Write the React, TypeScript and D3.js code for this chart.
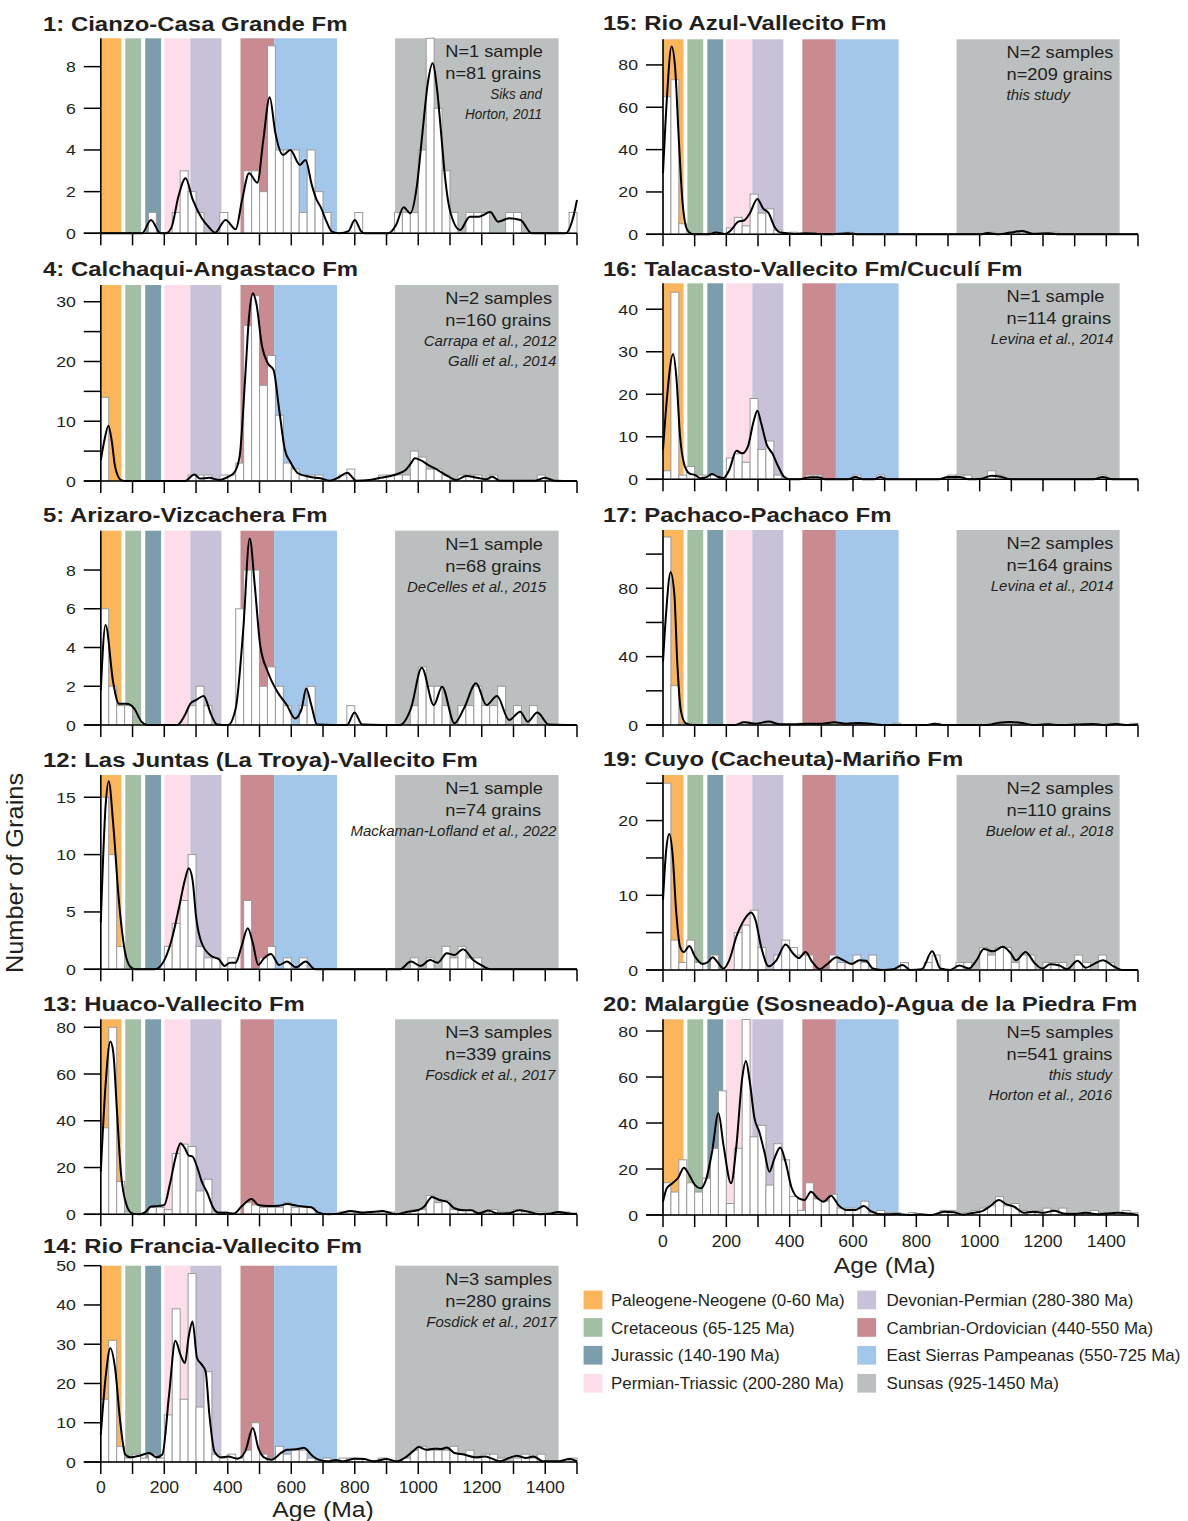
import React from "react";
import * as d3 from "d3";

const W = 1188;
const H = 1521;
const FONT = "'Liberation Sans', Arial, Helvetica, sans-serif";

// ---------- reference age bands (Ma) ----------
const bandRanges: [number, number][] = [
  [0, 65], [77, 127], [140, 190], [200, 282], [282, 380], [440, 546], [546, 744], [927, 1442],
];
const bandColors = ["#FBB65C", "#A3BFA3", "#7C9EAC", "#FDDDEA", "#C8C1D7", "#C98A90", "#A2C7EB", "#BBBFBF"];
const legendLabels = [
  "Paleogene-Neogene (0-60 Ma)",
  "Cretaceous (65-125 Ma)",
  "Jurassic (140-190 Ma)",
  "Permian-Triassic (200-280 Ma)",
  "Devonian-Permian (280-380 Ma)",
  "Cambrian-Ordovician (440-550 Ma)",
  "East Sierras Pampeanas (550-725 Ma)",
  "Sunsas (925-1450 Ma)",
];
const xTickValues = d3.range(0, 1501, 100);
const xTickLabels = [0, 200, 400, 600, 800, 1000, 1200, 1400];
const BIN = 25;

// ---------- histogram bins: [bin start (Ma), count] ----------
const p1Bars = [[150,1],[225,1],[250,3],[275,2],[300,1],[375,1],[450,3],[475,3],[500,2],[525,9],[550,4],[575,4],[600,4],[625,1],[650,4],[675,2],[700,1],[800,1],[925,1],[950,1],[975,1],[1000,4],[1025,10],[1050,6],[1075,3],[1100,1],[1150,1],[1175,1],[1200,1],[1275,1],[1300,1],[1475,1]];
const p4Bars = [[0,14],[275,1],[300,1],[325,1],[375,1],[400,1],[425,3],[450,26],[475,31],[500,16],[525,21],[550,11],[575,3],[600,2],[625,1],[650,1],[675,1],[750,1],[775,2],[875,1],[900,1],[925,1],[950,1],[975,5],[1000,4],[1025,2],[1050,2],[1075,1],[1125,1],[1150,1],[1175,1],[1225,1],[1375,1]];
const p5Bars = [[0,6],[25,2],[50,1],[75,1],[275,1],[300,2],[325,1],[425,6],[450,8],[475,8],[500,2],[525,3],[550,2],[575,1],[625,1],[650,2],[775,1],[975,1],[1000,3],[1025,2],[1050,2],[1075,1],[1125,1],[1150,1],[1175,2],[1200,1],[1225,1],[1250,2],[1300,1],[1350,1]];
const p12Bars = [[0,15],[25,10],[50,2],[200,2],[225,4],[250,6],[275,10],[300,2],[325,1],[350,1],[400,1],[450,6],[500,1],[525,2],[575,1],[625,1],[975,1],[1025,1],[1075,2],[1100,1],[1125,2],[1150,1],[1175,1]];
const p13Bars = [[0,37],[25,80],[50,14],[75,1],[150,3],[175,3],[200,2],[225,26],[250,30],[275,29],[300,10],[325,15],[350,1],[375,1],[450,5],[475,4],[500,3],[525,3],[550,3],[575,5],[600,3],[625,3],[650,3],[750,1],[775,1],[800,1],[825,1],[850,1],[875,1],[900,1],[950,1],[975,2],[1000,2],[1025,8],[1050,5],[1075,6],[1100,2],[1125,2],[1150,2],[1175,1],[1200,1],[1225,2],[1250,1],[1275,1],[1300,2],[1325,1],[1350,1],[1375,1],[1425,1],[1450,1]];
const p14Bars = [[0,16],[25,31],[50,4],[75,1],[100,2],[125,1],[150,2],[175,1],[200,12],[225,39],[250,16],[275,48],[300,14],[325,23],[350,2],[375,1],[400,2],[425,1],[450,3],[475,10],[500,2],[525,1],[550,4],[575,2],[600,3],[625,3],[650,1],[700,1],[750,1],[775,1],[800,1],[875,1],[950,1],[975,3],[1000,4],[1025,3],[1050,3],[1075,3],[1100,4],[1125,2],[1150,3],[1175,1],[1200,2],[1225,2],[1250,1],[1300,1],[1325,2],[1350,1],[1375,2],[1475,1]];
const p15Bars = [[0,65],[25,73],[50,5],[150,1],[200,3],[225,8],[250,4],[275,19],[300,10],[325,12],[350,2],[400,1],[450,1],[575,1],[1025,1],[1100,1],[1125,1],[1225,1]];
const p16Bars = [[0,2],[25,44],[50,1],[75,3],[100,1],[125,1],[150,1],[200,5],[225,6],[250,4],[275,19],[300,7],[325,9],[350,1],[450,1],[475,1],[600,1],[675,1],[900,1],[925,1],[950,1],[1025,2],[1050,1],[1375,1]];
const p17Bars = [[0,110],[25,23],[50,1],[75,1],[250,2],[275,1],[300,1],[325,1],[425,1],[475,1],[500,1],[525,1],[550,1],[575,1],[600,1],[625,1],[725,1],[850,1],[1025,1],[1050,1],[1075,1],[1100,1],[1125,1],[1200,1],[1325,1],[1400,1],[1475,1]];
const p19Bars = [[0,25],[25,4],[50,1],[75,4],[100,1],[150,2],[225,5],[250,6],[275,8],[300,3],[350,2],[375,4],[400,3],[425,2],[450,2],[525,2],[550,1],[575,1],[600,2],[625,1],[650,2],[750,1],[825,1],[850,2],[925,1],[950,1],[1000,3],[1025,2],[1050,3],[1075,3],[1100,1],[1125,2],[1150,2],[1200,1],[1225,1],[1250,1],[1300,2],[1325,1],[1375,2],[1400,1]];
const p20Bars = [[0,14],[25,10],[50,24],[75,14],[100,10],[125,16],[150,29],[175,54],[200,5],[225,29],[250,85],[275,34],[300,39],[325,13],[350,31],[375,24],[400,8],[425,2],[450,14],[475,7],[500,6],[525,9],[550,3],[575,3],[600,3],[625,6],[650,1],[675,2],[700,1],[725,1],[775,1],[875,2],[900,2],[950,1],[975,2],[1000,3],[1025,4],[1050,8],[1075,4],[1100,5],[1125,2],[1150,1],[1175,2],[1200,3],[1225,2],[1250,3],[1275,1],[1300,1],[1325,1],[1350,2],[1375,1],[1425,1],[1450,2],[1475,1]];

// ---------- probability-density curves: [age (Ma), value] ----------
const p1Kde = [[0,0],[130,0],[158,0.64],[188,0],[205,0],[223,0.3],[245,1.8],[267,2.64],[290,1.6],[318,0.72],[340,0.3],[360,0.03],[393,0.64],[425,0.2],[445,1.6],[467,2.88],[493,2.43],[512,4.5],[532,6.53],[550,4.8],[574,3.76],[597,4.0],[627,3.28],[645,3.52],[665,2.3],[680,1.6],[692,1.28],[710,0.6],[728,0.08],[752,0],[780,0.1],[800,0.64],[820,0.1],[829,0],[906,0],[930,0.4],[954,1.25],[975,0.96],[995,2.2],[1013,4.8],[1030,7.2],[1045,8.16],[1060,6.8],[1072,4.8],[1085,2.6],[1102,0.96],[1132,0.16],[1162,0.8],[1191,0.8],[1227,1.02],[1251,0.56],[1286,0.72],[1322,0.64],[1357,0],[1464,0],[1485,0.6],[1500,1.6]];
const p4Kde = [[0,3.5],[12,7],[24,9.26],[35,6.5],[45,2.4],[63,0.17],[75,0],[265,0],[295,1.1],[312,0.4],[342,0.55],[372,0.17],[401,0.7],[419,1.3],[437,4],[455,17.5],[467,27.5],[479,31.4],[490,29.7],[508,22.5],[526,19.7],[544,18.6],[562,11.9],[580,5.2],[597,3.2],[621,1.3],[657,0.7],[692,0.45],[722,0.05],[752,0.7],[776,1.4],[805,0.05],[847,0.17],[882,0.55],[924,1.0],[960,1.84],[977,2.96],[989,3.8],[1007,3.5],[1031,2.7],[1061,1.84],[1096,0.72],[1120,0.17],[1150,0.84],[1185,0.55],[1215,0.28],[1233,0.72],[1257,0.05],[1369,0.05],[1399,0.55],[1429,0.05],[1500,0]];
const p5Kde = [[0,1.8],[15,5.16],[39,2.2],[57,1.1],[81,1.1],[105,0.86],[128,0.17],[146,0],[241,0],[265,0.52],[283,1.12],[300,1.29],[324,1.5],[348,0.52],[366,0.03],[401,0],[425,0.86],[449,5.0],[469,9.63],[485,7.2],[502,4.13],[526,2.75],[556,1.72],[586,1.03],[612,0.34],[633,0.86],[647,1.89],[663,1.03],[681,0.03],[776,0],[799,0.65],[823,0.03],[942,0],[977,0.86],[1011,2.96],[1049,1.03],[1075,1.98],[1114,0.09],[1144,0.86],[1182,2.15],[1215,1.03],[1248,1.5],[1286,0.26],[1321,0.69],[1345,0.17],[1375,0.65],[1411,0.03],[1500,0]];
const p12Kde = [[0,4.1],[15,14.2],[25,16.4],[39,12.7],[57,6.0],[75,1.7],[93,0.23],[110,0],[170,0],[194,0.5],[223,2.56],[247,5.47],[265,7.8],[277,8.8],[289,7.8],[300,4.6],[318,2.27],[348,1.16],[372,0.87],[390,0.29],[407,0.58],[425,0.58],[443,1.98],[463,3.58],[479,2.27],[496,0.38],[514,0.96],[536,1.34],[562,0.38],[586,0.67],[615,0.17],[645,0.67],[675,0],[942,0],[977,0.67],[1007,0.29],[1037,0.81],[1061,0.58],[1090,1.4],[1114,1.25],[1141,1.74],[1173,0.81],[1203,0.29],[1227,0],[1500,0]];
const p13Kde = [[0,18.3],[15,55.3],[30,73.9],[39,69.6],[51,43.9],[63,18.3],[81,4],[99,0.4],[122,0],[140,0.9],[158,3.3],[182,3.6],[200,4],[217,12.5],[235,24],[251,30.4],[265,28.2],[277,25.1],[289,24.7],[303,20.4],[318,14],[336,9],[354,2.85],[372,0.7],[396,0.7],[419,0.3],[443,3.3],[475,6.56],[496,4],[526,3.6],[562,3.7],[586,4.4],[621,3.6],[663,3],[686,0.7],[716,0],[752,0.4],[787,1.4],[823,0.7],[859,1.1],[888,1.4],[930,0],[966,1.1],[1001,1.85],[1019,3.3],[1043,7.4],[1067,6.1],[1090,5.4],[1114,2.6],[1144,1.7],[1167,1.7],[1191,0.4],[1221,1.6],[1251,0.3],[1283,0.4],[1318,1.7],[1348,1.1],[1381,0],[1417,0.3],[1441,1],[1476,0.3],[1500,0.2]];
const p14Kde = [[0,7],[15,21.4],[30,29],[45,23.9],[61,10.4],[77,1.9],[93,1.2],[122,1.6],[152,2.3],[176,1.2],[194,1.9],[215,17.1],[235,30.9],[251,27.3],[265,25.2],[277,32],[289,35.8],[303,26.5],[318,24.8],[330,23.1],[342,12.1],[358,2.7],[378,1.2],[401,1.4],[431,0.85],[455,2.7],[479,8.66],[496,3.6],[514,1.2],[538,0.6],[568,2.3],[586,3.1],[621,3.3],[639,3.6],[669,1.4],[686,0.6],[716,0.17],[740,0.5],[764,0.17],[799,0.85],[829,0.76],[859,0.17],[900,0.76],[930,0.17],[960,1.2],[983,2.7],[1001,3.8],[1025,3.1],[1049,3.4],[1073,3.3],[1090,3.7],[1114,2.3],[1144,1.9],[1179,1.2],[1209,1.4],[1233,0.85],[1257,0.17],[1286,1],[1310,1.6],[1340,1],[1363,1.4],[1393,0.17],[1441,0.17],[1476,0.76],[1500,0.17]];
const p15Kde = [[0,28.8],[12,63.5],[27,88.7],[38,79.2],[50,44.6],[62,14.6],[77,2],[95,0],[143,0],[167,0.8],[197,0.16],[215,2],[238,6],[256,6.5],[274,9.9],[298,16.7],[316,12.3],[334,9.9],[352,3.6],[370,0.9],[393,0.5],[417,0.2],[453,0.5],[489,0.2],[525,0],[584,0.5],[620,0],[1001,0],[1025,0.6],[1061,0],[1097,0.8],[1133,1.6],[1168,0.3],[1216,0.5],[1252,0],[1500,0]];
const p16Kde = [[0,6.9],[12,18.7],[32,29.5],[42,24.2],[54,10],[66,3.8],[83,1.4],[101,1],[119,0.24],[137,0.5],[155,1.25],[173,0.6],[191,0.3],[209,2.2],[232,6.7],[250,6.1],[268,7.7],[286,13.6],[298,16.1],[310,13.2],[328,8.1],[346,6],[364,3],[382,0.6],[399,0],[429,0],[465,0.47],[489,0.47],[513,0],[584,0],[608,0.55],[632,0],[668,0],[686,0.55],[709,0],[870,0],[900,0.55],[936,0.55],[966,0],[1007,0.15],[1037,0.86],[1067,0.6],[1097,0],[1359,0],[1389,0.55],[1419,0],[1500,0]];
const p17Kde = [[0,37],[10,66],[24,89.4],[36,76],[45,37],[57,7.8],[72,1],[95,0],[227,0],[256,1.56],[292,0.8],[334,2],[370,0.4],[417,0.4],[453,0.8],[501,0.8],[542,1.56],[578,0.8],[620,1.2],[662,0.6],[703,0],[835,0],[858,0.8],[882,0],[1025,0],[1061,1.37],[1097,1.76],[1133,1.2],[1168,0],[1216,0.4],[1252,0],[1359,0.6],[1395,0],[1431,0.6],[1467,0],[1500,0.3]];
const p19Kde = [[0,9.4],[10,16],[20,18.2],[30,15.6],[42,7.6],[54,3.1],[66,2.4],[83,3.2],[101,1.8],[125,0.8],[143,1.1],[157,1.7],[173,1],[191,0.2],[209,1.3],[232,4.5],[256,6.7],[278,7.7],[292,6.7],[310,3.1],[334,0.5],[358,1.3],[387,3.4],[411,2.2],[429,1.6],[450,2.4],[471,1.1],[495,0.1],[519,0.8],[548,1.7],[572,1.25],[596,0.8],[620,1.3],[641,1.25],[662,0.2],[692,0],[727,0.1],[757,0.67],[781,0],[817,0.1],[850,2.5],[876,0.2],[906,0],[936,0.6],[966,0.2],[990,1.3],[1013,2.8],[1043,2.5],[1073,3.1],[1097,2.3],[1115,1.3],[1145,2.4],[1174,0.9],[1198,0.2],[1222,0.76],[1252,0.6],[1276,0.1],[1309,1.25],[1335,0.3],[1359,0.76],[1389,1.3],[1419,0.6],[1449,0],[1500,0]];
const p20Kde = [[0,5.8],[12,11.6],[30,13.8],[48,16.2],[66,20.6],[83,17.4],[101,13],[119,11.6],[137,15.9],[155,27.5],[175,44.2],[191,30.4],[215,13.8],[232,30.4],[250,59.4],[262,67],[274,58],[289,42],[304,36.2],[320,27.5],[336,18.8],[352,24.6],[370,29.3],[388,22.5],[405,12.3],[429,7.2],[447,6.5],[467,10.1],[489,7.2],[507,5.8],[531,8.4],[554,4.3],[578,2.2],[608,2.2],[634,3.9],[656,1.7],[692,0.3],[739,0.4],[775,0],[811,0.3],[847,0],[888,1.45],[918,1.2],[948,0.15],[978,0.9],[1008,1.7],[1031,3.6],[1061,6.5],[1085,4.6],[1109,3.6],[1139,1],[1168,1.45],[1204,1],[1234,1.9],[1264,0.7],[1299,0.4],[1335,1],[1371,0.3],[1437,1],[1473,0.6],[1500,0]];

// ---------- panel texts ----------
const titles = [
  "1: Cianzo-Casa Grande Fm", "4: Calchaqui-Angastaco Fm", "5: Arizaro-Vizcachera Fm",
  "12: Las Juntas (La Troya)-Vallecito Fm", "13: Huaco-Vallecito Fm", "14: Rio Francia-Vallecito Fm",
  "15: Rio Azul-Vallecito Fm", "16: Talacasto-Vallecito Fm/Cuculí Fm", "17: Pachaco-Pachaco Fm",
  "19: Cuyo (Cacheuta)-Mariño Fm", "20: Malargüe (Sosneado)-Agua de la Piedra Fm",
];
const sampleLines = ["N=1 sample","N=2 samples","N=1 sample","N=1 sample","N=3 samples","N=3 samples","N=2 samples","N=1 sample","N=2 samples","N=2 samples","N=5 samples"];
const grainLines = ["n=81 grains","n=160 grains","n=68 grains","n=74 grains","n=339 grains","n=280 grains","n=209 grains","n=114 grains","n=164 grains","n=110 grains","n=541 grains"];
const citations = [
  ["Siks and", "Horton, 2011"], ["Carrapa et al., 2012", "Galli et al., 2014"], ["DeCelles et al., 2015"],
  ["Mackaman-Lofland et al., 2022"], ["Fosdick et al., 2017"], ["Fosdick et al., 2017"],
  ["this study"], ["Levina et al., 2014"], ["Levina et al., 2014"], ["Buelow et al., 2018"],
  ["this study", "Horton et al., 2016"],
];
const barsList = [p1Bars, p4Bars, p5Bars, p12Bars, p13Bars, p14Bars, p15Bars, p16Bars, p17Bars, p19Bars, p20Bars];
const kdeList = [p1Kde, p4Kde, p5Kde, p12Kde, p13Kde, p14Kde, p15Kde, p16Kde, p17Kde, p19Kde, p20Kde];
const yTicksList = [
  [0,2,4,6,8], [0,5,10,15,20,25,30], [0,2,4,6,8], [0,5,10,15], [0,20,40,60,80], [0,10,20,30,40,50],
  [0,20,40,60,80], [0,10,20,30,40], [0,20,40,60,80,100], [0,5,10,15,20,25], [0,20,40,60,80],
];
const yLabelsList = [
  [0,2,4,6,8], [0,10,20,30], [0,2,4,6,8], [0,5,10,15], [0,20,40,60,80], [0,10,20,30,40,50],
  [0,20,40,60,80], [0,10,20,30,40], [0,40,80], [0,10,20], [0,20,40,60,80],
];
const yMaxList = [9.36, 32.8, 10.03, 16.94, 83.4, 50, 92.1, 46.1, 114.1, 26.1, 85.1];

// ---------- layout (positions only) ----------
const layout = [
  { col: 0, top: 38.3, zero: 233.3, titleY: 30.5, citeMode: "end", citeAt: 1390, citeSx: 0.9, xLabels: false },
  { col: 0, top: 285, zero: 481, titleY: 276, citeMode: "end", citeAt: 1435, citeSx: 1, xLabels: false },
  { col: 0, top: 530.7, zero: 725, titleY: 521.5, citeMode: "end", citeAt: 1403, citeSx: 1, xLabels: false },
  { col: 0, top: 775, zero: 969.3, titleY: 766.5, citeMode: "end", citeAt: 1435, citeSx: 1, xLabels: false },
  { col: 0, top: 1019.3, zero: 1214.3, titleY: 1011, citeMode: "end", citeAt: 1432, citeSx: 1, xLabels: false },
  { col: 0, top: 1265.7, zero: 1462, titleY: 1253, citeMode: "end", citeAt: 1435, citeSx: 1, xLabels: true, tickDy: 31, ageDy: 55 },
  { col: 1, top: 39.3, zero: 234.3, titleY: 30, citeMode: "start", citeAt: 1085, citeSx: 1, xLabels: false },
  { col: 1, top: 283.3, zero: 479.3, titleY: 276, citeMode: "end", citeAt: 1422, citeSx: 1, xLabels: false },
  { col: 1, top: 530, zero: 725, titleY: 521.5, citeMode: "end", citeAt: 1422, citeSx: 1, xLabels: false },
  { col: 1, top: 775, zero: 970, titleY: 766, citeMode: "end", citeAt: 1422, citeSx: 1, xLabels: false },
  { col: 1, top: 1019.3, zero: 1215, titleY: 1011, citeMode: "end", citeAt: 1418, citeSx: 1, xLabels: true, tickDy: 32, ageDy: 58 },
];
const colRanges = [[100.8, 577], [663, 1138]];
const titleX = [43, 603];

function T(props: any) {
  const { x, y, sx = 1, anchor = "start", size = 16, weight = "normal", italic = false, rotate = 0, children } = props;
  return (
    <text
      transform={`translate(${x},${y})${rotate ? ` rotate(${rotate})` : ""} scale(${sx},1)`}
      textAnchor={anchor}
      fontFamily={FONT}
      fontSize={size}
      fontWeight={weight}
      fontStyle={italic ? "italic" : "normal"}
      fill="#231f20"
    >
      {children}
    </text>
  );
}

function Panel({ i }: { i: number }) {
  const L: any = layout[i];
  const x = d3.scaleLinear().domain([0, 1500]).range(colRanges[L.col]);
  const y = d3.scaleLinear().domain([0, yMaxList[i]]).range([L.zero, L.top]);
  const line = d3
    .line<number[]>()
    .x((d) => x(d[0]))
    .y((d) => y(d[1]))
    .curve(d3.curveMonotoneX);
  const x0 = x(0);
  const cites = citations[i];
  return (
    <g>
      <T x={titleX[L.col]} y={L.titleY} size={21} sx={1.14} weight="bold">{titles[i]}</T>
      {bandRanges.map((b, k) => (
        <rect key={k} x={x(b[0])} y={L.top} width={x(b[1]) - x(b[0])} height={L.zero - L.top} fill={bandColors[k]} />
      ))}
      {barsList[i].map((b, k) => {
        const v = Math.min(b[1], yMaxList[i]);
        return (
          <rect key={k} x={x(b[0])} y={y(v)} width={x(b[0] + BIN) - x(b[0])} height={L.zero - y(v)}
            fill="#ffffff" stroke="#9a9a9a" strokeWidth={1} />
        );
      })}
      <path d={line(kdeList[i] as number[][]) || ""} fill="none" stroke="#000" strokeWidth={2} strokeLinejoin="round" />
      {/* y axis */}
      <line x1={x0} x2={x0} y1={L.zero} y2={L.top} stroke="#000" strokeWidth={1.6} />
      {yTicksList[i].map((t) => (
        <line key={t} x1={x0 - 17} x2={x0} y1={y(t)} y2={y(t)} stroke="#000" strokeWidth={1.5} />
      ))}
      {yLabelsList[i].map((t) => (
        <T key={t} x={x0 - 25} y={y(t) + 5.5} anchor="end" size={15.5} sx={1.14}>{String(t)}</T>
      ))}
      {/* x axis */}
      <line x1={x0 - 17} x2={x(1500)} y1={L.zero} y2={L.zero} stroke="#000" strokeWidth={1.6} />
      {xTickValues.map((t) => (
        <line key={t} x1={x(t)} x2={x(t)} y1={L.zero} y2={L.zero + 12} stroke="#000" strokeWidth={1.5} />
      ))}
      {L.xLabels &&
        xTickLabels.map((t) => (
          <T key={t} x={x(t)} y={L.zero + L.tickDy} anchor="middle" size={16} sx={1.1}>{String(t)}</T>
        ))}
      {L.xLabels && (
        <T x={x(700)} y={L.zero + L.ageDy} anchor="middle" size={21.5} sx={1.15}>Age (Ma)</T>
      )}
      {/* annotations */}
      <T x={x(1085)} y={L.top + 19} size={16} sx={1.14}>{sampleLines[i]}</T>
      <T x={x(1085)} y={L.top + 41} size={16} sx={1.14}>{grainLines[i]}</T>
      {cites.map((c, k) => (
        <T key={k} x={x(L.citeAt)} y={L.top + 61 + k * 20} anchor={L.citeMode} size={15} sx={L.citeSx} italic>
          {c}
        </T>
      ))}
    </g>
  );
}

function Legend() {
  const rowsY = [1300, 1327.5, 1355.3, 1383.3];
  const swX = [583.6, 857.3];
  const txX = [611, 886.6];
  return (
    <g>
      {legendLabels.map((lab, k) => {
        const c = Math.floor(k / 4);
        const r = k % 4;
        return (
          <g key={k}>
            <rect x={swX[c]} y={rowsY[r] - 9.4} width={18.8} height={18.7} fill={bandColors[k]} />
            <T x={txX[c]} y={rowsY[r] + 6} size={16} sx={1.06}>{lab}</T>
          </g>
        );
      })}
    </g>
  );
}

export default function App() {
  return (
    <svg width={W} height={H} viewBox={`0 0 ${W} ${H}`}
      style={{ position: "absolute", left: 0, top: 0, display: "block", background: "#fff" }}>
      <rect x={0} y={0} width={W} height={H} fill="#fff" />
      {titles.map((_, i) => (
        <Panel key={i} i={i} />
      ))}
      <T x={22.5} y={873} rotate={-90} anchor="middle" size={23.5} sx={1.08}>Number of Grains</T>
      <Legend />
    </svg>
  );
}
